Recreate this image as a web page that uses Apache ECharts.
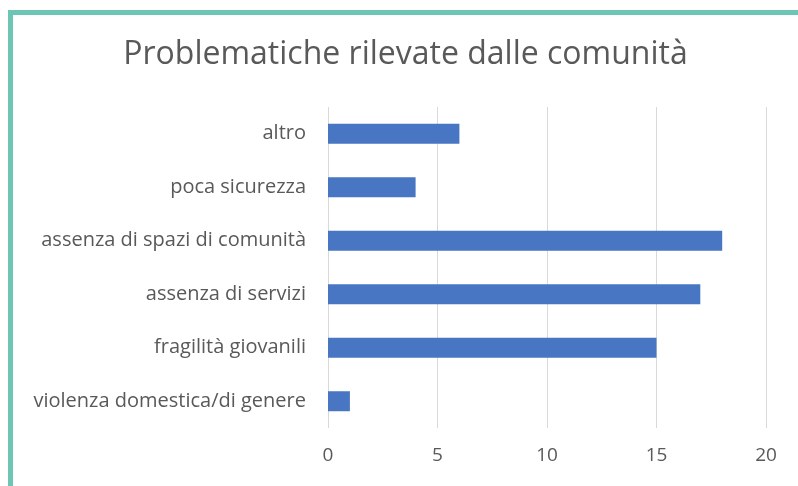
<!DOCTYPE html>
<html>
<head>
<meta charset="utf-8">
<script src="https://cdn.jsdelivr.net/npm/echarts@6/dist/echarts.min.js"></script>
<style>
  html, body { margin: 0; padding: 0; background: #fff; overflow: hidden; }
  #wrap {
    position: absolute; left: 8px; top: 10px;
    width: 785px; height: 471px;
    border-left: 5px solid #6cc5b5;
    border-top: 5px solid #6cc5b5;
  }
  #chart { width: 785px; height: 471px; }
</style>
</head>
<body>
<div id="wrap"><div id="chart"></div></div>
<script>
// categorie dal basso verso l'alto (ordine dell'asse)
const categories = [
  'violenza domestica/di genere',
  'fragilità giovanili',
  'assenza di servizi',
  'assenza di spazi di comunità',
  'poca sicurezza',
  'altro'
];
const values = [1, 15, 17, 18, 4, 6];
const xTicks = [0, 5, 10, 15, 20];

const chart = echarts.init(document.getElementById('chart'));

const option = {
  animation: false,
  title: {
    text: 'Problematiche rilevate dalle comunità',
    left: 'center',
    top: 19,
    textStyle: {
      fontFamily: 'Open Sans',
      fontSize: 32,
      fontWeight: 'normal',
      color: '#595959'
    }
  },
  grid: {
    left: 315,
    right: 32,
    top: 92,
    bottom: 58
  },
  xAxis: {
    type: 'value',
    min: xTicks[0],
    max: xTicks[xTicks.length - 1],
    interval: 5,
    axisLine: { show: false },
    axisTick: { show: false },
    axisLabel: {
      margin: 18,
      fontFamily: 'Open Sans',
      fontSize: 19,
      color: '#595959'
    },
    splitLine: { lineStyle: { color: '#d9d9d9', width: 1 } }
  },
  yAxis: {
    type: 'category',
    data: categories,
    axisLine: { show: false },
    axisTick: { show: false },
    axisLabel: {
      margin: 22,
      fontFamily: 'Open Sans',
      fontSize: 20,
      color: '#595959'
    }
  },
  series: [{
    type: 'bar',
    data: values,
    barWidth: 20,
    itemStyle: { color: '#4876c2' }
  }]
};

chart.setOption(option);
</script>
</body>
</html>
